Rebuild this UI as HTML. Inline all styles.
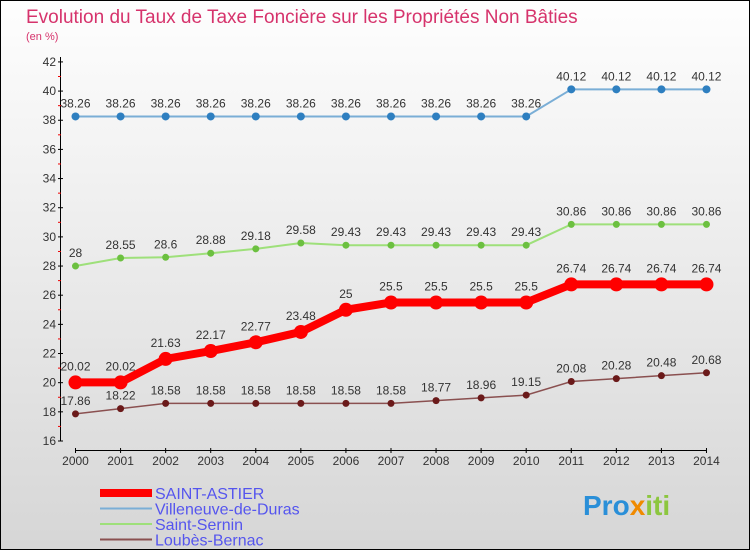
<!DOCTYPE html>
<html><head><meta charset="utf-8"><style>
body{margin:0;width:750px;height:550px;overflow:hidden;font-family:"Liberation Sans",sans-serif}
svg text{font-family:"Liberation Sans",sans-serif}
</style></head><body>
<svg width="750" height="550">
<defs><linearGradient id="bg" x1="0" y1="0" x2="0" y2="1"><stop offset="0" stop-color="#fefefe"/><stop offset="1" stop-color="#d6d6d6"/></linearGradient></defs>
<rect x="0.5" y="0.5" width="749" height="549" fill="url(#bg)" stroke="#000"/>
<text x="26" y="23" font-size="19" fill="#d6336c">Evolution du Taux de Taxe Foncière sur les Propriétés Non Bâties</text>
<text x="26" y="40" font-size="11" fill="#d6336c">(en %)</text>
<g id="axes"></g><g id="series"></g><g id="legend"></g>
<g font-size="28" font-weight="bold">
<text x="583" y="515"><tspan fill="#2a8fd8">Pro</tspan><tspan fill="#f08a00">x</tspan><tspan fill="#8cc63f">iti</tspan></text></g>
</svg>
<script>
const years=[2000,2001,2002,2003,2004,2005,2006,2007,2008,2009,2010,2011,2012,2013,2014];
const yTicks=[16,18,20,22,24,26,28,30,32,34,36,38,40,42];
const saintAstier=[20.02,20.02,21.63,22.17,22.77,23.48,25,25.5,25.5,25.5,25.5,26.74,26.74,26.74,26.74];
const villeneuve=[38.26,38.26,38.26,38.26,38.26,38.26,38.26,38.26,38.26,38.26,38.26,40.12,40.12,40.12,40.12];
const saintSernin=[28,28.55,28.6,28.88,29.18,29.58,29.43,29.43,29.43,29.43,29.43,30.86,30.86,30.86,30.86];
const loubes=[17.86,18.22,18.58,18.58,18.58,18.58,18.58,18.58,18.77,18.96,19.15,20.08,20.28,20.48,20.68];
const NS="http://www.w3.org/2000/svg";
const X=i=>75.5+i*45.07, Y=v=>441-(v-16)*14.58;
function mk(t,a,p){const e=document.createElementNS(NS,t);for(const k in a)e.setAttribute(k,a[k]);p.appendChild(e);return e;}
const ax=document.getElementById('axes');
let l=mk('line',{x1:60.5,y1:57,x2:60.5,y2:441,stroke:'#000'},ax);


yTicks.forEach(v=>{mk('line',{x1:58,x2:63,y1:Y(v),y2:Y(v),stroke:'#000'},ax);
 if(v<42)mk('line',{x1:58,x2:61,y1:Y(v+1),y2:Y(v+1),stroke:'#e00'},ax);
 const t=mk('text',{x:56,y:Y(v)+4,'font-size':12,'text-anchor':'end',fill:'#333'},ax);t.textContent=v;
 
 });
l=mk('line',{x1:75,y1:450.5,x2:706,y2:450.5,stroke:'#000'},ax);


years.forEach((y,i)=>{mk('line',{x1:X(i),x2:X(i),y1:448,y2:453,stroke:'#000'},ax);
 const t=mk('text',{x:X(i),y:465,'font-size':12,'text-anchor':'middle',fill:'#333'},ax);t.textContent=y;
 
 });
const sg=document.getElementById('series');
function draw(data,name,color,dot,w,r,fs){const g=mk('g',{},sg);
 
 
 mk('polyline',{points:data.map((v,i)=>X(i)+','+Y(v)).join(' '),fill:'none',stroke:color,'stroke-width':w},g);
 data.forEach((v,i)=>{const c=mk('circle',{cx:X(i),cy:Y(v),r:r,fill:dot},g);
  
  
  const t=mk('text',{x:X(i),y:Y(v)-9-(r>4?3:0),'font-size':fs,'text-anchor':'middle',fill:'#333'},g);t.textContent=v;
  
  });}
draw(villeneuve,'villeneuve','#7aaed6','#2e7fc0',2,4,12);
draw(saintSernin,'saint-sernin','#9ee07a','#6cc040',2,3.5,12);
draw(loubes,'loubes-bernac','#8a5050','#6b1a1a',1.5,3.5,12);
draw(saintAstier,'saint-astier','#f00','#f00',8,7,12);
const lg=document.getElementById('legend');
[['SAINT-ASTIER','#f00',8],['Villeneuve-de-Duras','#7aaed6',2],['Saint-Sernin','#9ee07a',2],['Loubès-Bernac','#8a5050',2]].forEach((s,i)=>{
 const g=mk('g',{},lg);
 
 
 const yy=493+i*15.5;
 mk('line',{x1:100,x2:152,y1:yy,y2:yy,stroke:s[1],'stroke-width':s[2]},g);
 const t=mk('text',{x:155,y:yy+6,'font-size':16,fill:'#5555ee'},g);t.textContent=s[0];});
</script>
</body></html>
